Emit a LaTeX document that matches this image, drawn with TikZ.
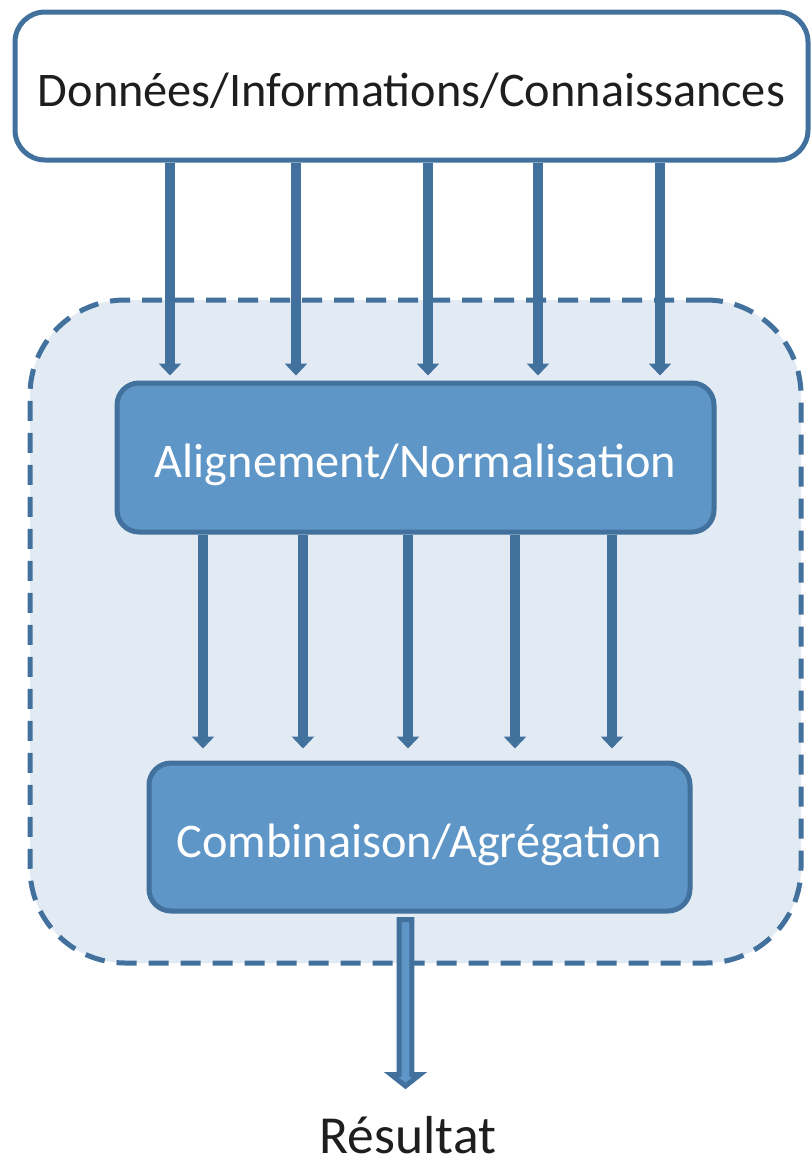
\documentclass[tikz,border=0pt]{standalone}
\usepackage{fontspec}
\setmainfont{Carlito}
\usetikzlibrary{arrows.meta}
\definecolor{bd}{HTML}{41719C}
\definecolor{bx}{HTML}{5F96C8}
\definecolor{cf}{HTML}{E2EAF4}
\definecolor{tx}{HTML}{1E1E1E}
\begin{document}
\begin{tikzpicture}[x=1pt,y=-1pt,
  lbl/.style={font=\fontsize{48.3}{52}\selectfont, inner sep=0pt, text height=50pt, text depth=10pt},
  box/.style={lbl, rectangle, rounded corners=22pt, draw=bd, line width=5pt, fill=bx, text=white},
  arr/.style={draw=bd, line width=10pt, -{Triangle[width=22pt,length=12pt]}, bd}]
\useasboundingbox (0,0) rectangle (811,1157);
\node[draw=bd, fill=cf, rounded corners=95pt, minimum width=771pt, minimum height=663pt, line width=5pt, dash pattern=on 20pt off 12pt] (grp) at (415.5,631.5) {};
\node[lbl, draw=bd, fill=white, line width=5pt, rounded corners=30pt, minimum width=793pt, minimum height=148pt, text=tx] (src) at (411.5,86) {Données/Informations/Connaissances};
\node[box, minimum width=597pt, minimum height=149pt] (aln) at (415.5,457.5) {Alignement/Normalisation};
\node[box, minimum width=541pt, minimum height=148pt] (cmb) at (419.5,837) {Combinaison/Agrégation};
\foreach \i/\x in {1/170,2/296,3/428,4/538,5/660} \coordinate (t\i) at (\x,0);
\foreach \i/\x in {1/203,2/303,3/408,4/515,5/612} \coordinate (m\i) at (\x,0);
\foreach \i in {1,...,5} {
  \draw[arr] (src.south -| t\i) -- ([yshift=5pt]aln.north -| t\i);
  \draw[arr] (aln.south -| m\i) -- ([yshift=12pt]cmb.north -| m\i);
}
\coordinate (fa) at (405.5,919.5);
\draw[bd, fill=bx, line width=5pt, line join=miter]
  (fa) ++(-6.3,0) -- ++(0,155) -- ++(-8.2,0) -- ++(14.5,11.5) -- ++(14.5,-11.5) -- ++(-8.2,0) -- ++(0,-155) -- cycle;
\node[text=tx, font=\fontsize{53.5}{56}\selectfont, inner sep=0pt, anchor=base] (res) at (408,1153) {Résultat};
\end{tikzpicture}
\end{document}
